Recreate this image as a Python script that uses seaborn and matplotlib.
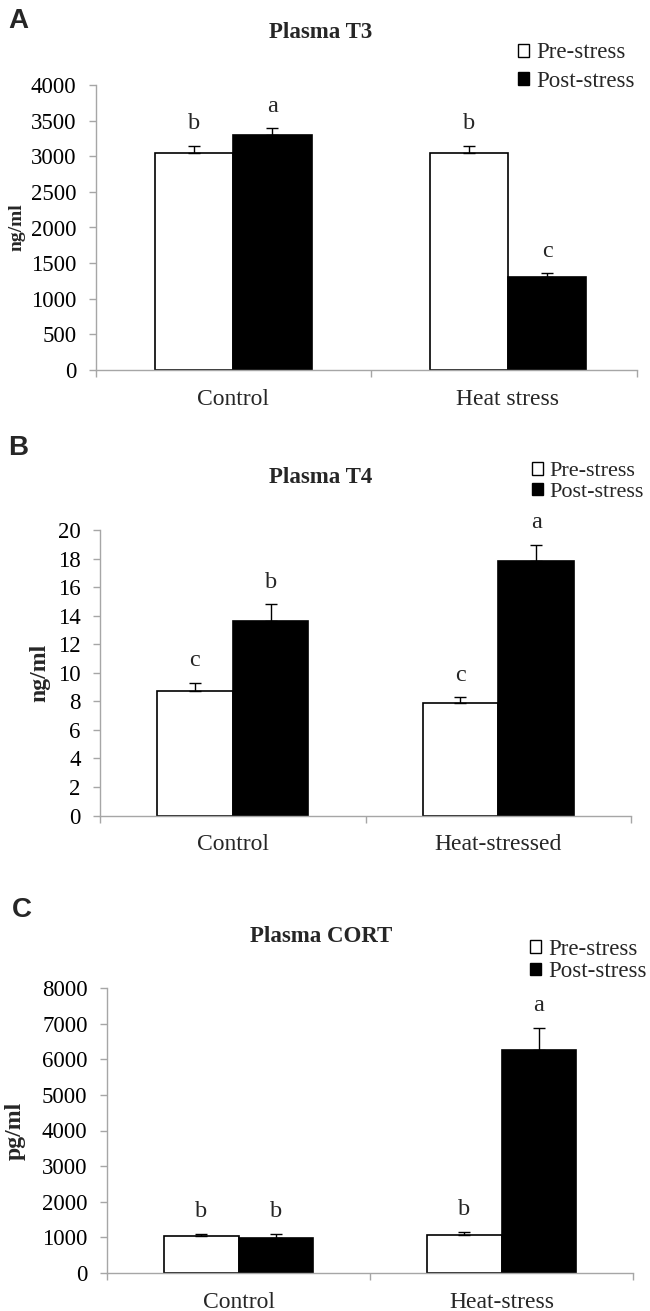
import matplotlib
matplotlib.use("Agg")
import matplotlib.pyplot as plt
from matplotlib.patches import Patch
import seaborn as sns
import pandas as pd

# values
phases = ["Pre-stress", "Post-stress"]

t3_groups = ["Control", "Heat stress"]
t3_pre = [3050, 3050]
t3_post = [3300, 1300]
t3_pre_err = [100, 100]
t3_post_err = [90, 55]
t3_pre_letters = ["b", "b"]
t3_post_letters = ["a", "c"]
t3_ticks = list(range(0, 4001, 500))

t4_groups = ["Control", "Heat-stressed"]
t4_pre = [8.75, 7.9]
t4_post = [13.6, 17.8]
t4_pre_err = [0.55, 0.38]
t4_post_err = [1.2, 1.15]
t4_pre_letters = ["c", "c"]
t4_post_letters = ["b", "a"]
t4_ticks = list(range(0, 21, 2))

cort_groups = ["Control", "Heat-stress"]
cort_pre = [1040, 1060]
cort_post = [970, 6260]
cort_pre_err = [50, 90]
cort_post_err = [120, 620]
cort_pre_letters = ["b", "b"]
cort_post_letters = ["b", "a"]
cort_ticks = list(range(0, 8001, 1000))

W, H = 650, 1311
GRAY = "#a6a6a6"

sns.set_theme(style="white")
plt.rcParams["font.family"] = ["Liberation Serif", "DejaVu Serif"]

fig = plt.figure(figsize=(W / 100, H / 100), dpi=100)


def fx(px):
    return px / W


def fy(py):
    return 1 - py / H


def make_df(groups, pre, post, pre_err, post_err, pre_let, post_let):
    rows = []
    for g, v, e, l in zip(groups, pre, pre_err, pre_let):
        rows.append({"group": g, "phase": "Pre-stress", "value": v, "err": e, "letter": l})
    for g, v, e, l in zip(groups, post, post_err, post_let):
        rows.append({"group": g, "phase": "Post-stress", "value": v, "err": e, "letter": l})
    return pd.DataFrame(rows)


def draw_panel(df, groups, ticks, box, xright, tag, tag_xy, title, title_y,
               ylabel, ylabel_x, ylabel_size, leg_xy, leg_spacing, leg_size=16.5):
    left, right, top, bottom = box
    ax = fig.add_axes([fx(left), fy(bottom), fx(right) - fx(left), (bottom - top) / H])
    sns.barplot(data=df, x="group", y="value", hue="phase", order=groups,
                hue_order=phases, palette=["white", "black"], edgecolor="black",
                linewidth=1.2, width=0.57, errorbar=None, legend=False, ax=ax)

    # upper-only error bars and significance letters
    for container, phase in zip(ax.containers, phases):
        sub = df[df["phase"] == phase].set_index("group").loc[groups]
        xs = [b.get_x() + b.get_width() / 2 for b in container]
        ax.errorbar(xs, sub["value"], yerr=[[0] * len(xs), sub["err"]], fmt="none",
                    ecolor="black", elinewidth=1, capsize=4, capthick=1, zorder=3)
        for x, v, e, l in zip(xs, sub["value"], sub["err"], sub["letter"]):
            ax.annotate(l, (x, v + e), xytext=(0, 16), textcoords="offset points",
                        ha="center", va="center", fontsize=17.5)

    ax.set_xlim(-0.5, xright)
    ax.set_ylim(ticks[0], ticks[-1])
    ax.set_yticks(ticks)
    ax.set_xticks(range(len(groups)))
    ax.set_xticklabels(groups)
    ax.set_xticks([-0.5, 0.5, xright], minor=True)
    ax.set_xlabel("")
    ax.set_ylabel(ylabel, fontweight="bold", fontsize=ylabel_size, va="center")
    ax.yaxis.set_label_coords(fx(ylabel_x), fy((top + bottom) / 2), transform=fig.transFigure)

    for s in ["top", "right"]:
        ax.spines[s].set_visible(False)
    for s in ["left", "bottom"]:
        ax.spines[s].set_color(GRAY)
        ax.spines[s].set_linewidth(1)
    ax.tick_params(axis="y", left=True, length=5, width=1, color=GRAY,
                   labelsize=16.5, pad=9, labelcolor="black")
    ax.tick_params(axis="x", which="major", bottom=True, length=0, labelsize=17, pad=13.5)
    ax.tick_params(axis="x", which="minor", bottom=True, length=5, width=1, color=GRAY)

    handles = [Patch(facecolor="white", edgecolor="black", linewidth=1),
               Patch(facecolor="black", edgecolor="black", linewidth=1)]
    ax.legend(handles, phases, loc="center left", bbox_to_anchor=(fx(leg_xy[0]), fy(leg_xy[1])),
              bbox_transform=fig.transFigure, frameon=False, fontsize=leg_size,
              handlelength=0.48, handleheight=0.48, handletextpad=0.3,
              labelspacing=leg_spacing, borderpad=0, borderaxespad=0)

    fig.text(fx(tag_xy[0]), fy(tag_xy[1]), tag, family="Liberation Sans",
             fontweight="bold", fontsize=20, ha="left", va="center")
    fig.text(fx(321), fy(title_y), title, fontweight="bold", fontsize=16.5,
             ha="center", va="center")
    return ax


df_t3 = make_df(t3_groups, t3_pre, t3_post, t3_pre_err, t3_post_err, t3_pre_letters, t3_post_letters)
df_t4 = make_df(t4_groups, t4_pre, t4_post, t4_pre_err, t4_post_err, t4_pre_letters, t4_post_letters)
df_cort = make_df(cort_groups, cort_pre, cort_post, cort_pre_err, cort_post_err,
                  cort_pre_letters, cort_post_letters)

draw_panel(df_t3, t3_groups, t3_ticks, (96, 637, 85, 370), 1.47, "A", (8, 21),
           "Plasma T3", 33, "ng/ml", 17, 14, (518, 67), 0.32)
draw_panel(df_t4, t4_groups, t4_ticks, (100, 631, 530, 815.5), 1.5, "B", (8, 448),
           "Plasma T4", 478, "ng/ml", 40, 17, (532, 482), 0.05, 16)
draw_panel(df_cort, cort_groups, cort_ticks, (107, 633, 988, 1273), 1.5, "C", (12, 910),
           "Plasma CORT", 937, "pg/ml", 15, 17, (530, 960.5), 0.05)

fig.savefig("out.png", dpi=100)
